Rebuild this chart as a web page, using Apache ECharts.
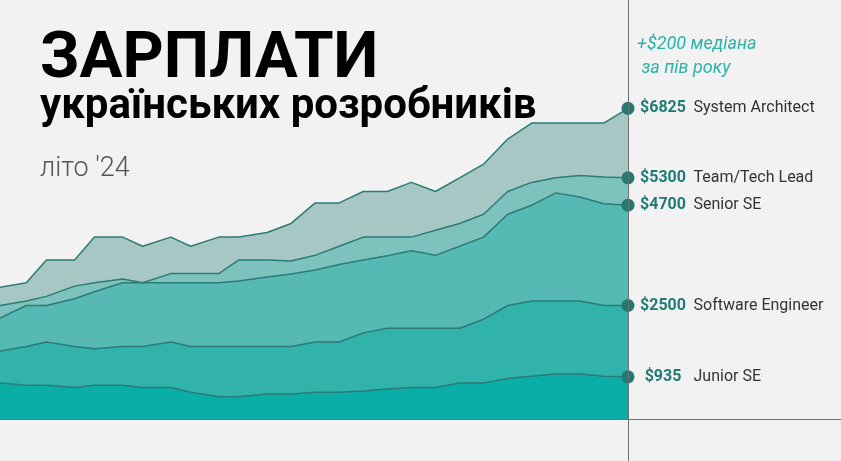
<!DOCTYPE html>
<html>
<head>
<meta charset="utf-8">
<script src="https://cdn.jsdelivr.net/npm/echarts@6/dist/echarts.min.js"></script>
<style>
  html, body { margin: 0; padding: 0; background: #f2f2f2; }
  #main { width: 841px; height: 461px; }
</style>
</head>
<body>
<div id="main"></div>
<script>
// дати опитувань
const dates = ['2011-05-15', '2011-12-01', '2012-05-01', '2012-12-01', '2013-05-01', '2013-12-01', '2014-05-01',
  '2014-12-01', '2015-05-01', '2015-12-01', '2016-05-01', '2016-12-01', '2017-06-01', '2017-12-01', '2018-06-01',
  '2018-12-01', '2019-06-01', '2019-12-01', '2020-06-01', '2020-12-01', '2021-06-01', '2021-12-01', '2022-06-01',
  '2022-12-01', '2023-06-01', '2023-12-01', '2024-06-01']

const names = ['System Architect', 'Team/Tech Lead', 'Senior SE', 'Software Engineer', 'Junior SE']

const architect = [2900, 3000, 3500, 3500, 4000, 4000, 3800, 4000, 3800, 4000, 4000, 4100, 4300, 4750, 4750, 5000, 5000, 5200, 5000, 5300, 5600, 6150, 6500, 6500, 6500, 6500, 6825]
const teamLead = [2500, 2600, 2700, 2925, 3000, 3080, 3000, 3200, 3200, 3200, 3500, 3500, 3475, 3600, 3800, 4000, 4000, 4000, 4150, 4300, 4500, 5000, 5200, 5300, 5350, 5320, 5300]
const senior = [2225, 2500, 2500, 2650, 2800, 3000, 3000, 3000, 3000, 3000, 3040, 3125, 3190, 3280, 3400, 3500, 3590, 3700, 3600, 3800, 4000, 4500, 4700, 4970, 4880, 4730, 4700]
const engineer = [1500, 1600, 1700, 1600, 1550, 1600, 1600, 1700, 1600, 1600, 1600, 1600, 1600, 1700, 1700, 1900, 2000, 2000, 2000, 2000, 2200, 2500, 2600, 2600, 2600, 2500, 2500]
const junior = [800, 750, 750, 700, 750, 750, 700, 700, 600, 500, 500, 560, 560, 600, 600, 625, 670, 700, 700, 800, 800, 900, 950, 1000, 1000, 950, 935]

const fills = ['#a7c7c5', '#7ec2bd', '#57b9b3', '#31b2ab', '#0badA7']

function toTime(s) {
  const p = s.split('-').map(Number)
  return new Date(p[0], p[1] - 1, p[2]).getTime()
}

const times = dates.map(toTime)
const xMin = times[0]
const xLast = times[times.length - 1]
// останнє опитування стоїть на 628px з 841
const xMax = xMin + (xLast - xMin) * 841 / 628

function buildSeries(values, i) {
  const last = values.length - 1
  return {
    name: names[i],
    type: 'line',
    data: values.map((v, j) => [times[j], v]),
    symbol: 'circle',
    symbolSize: (val, params) => params.dataIndex === last ? 13 : 0,
    showAllSymbol: true,
    itemStyle: { color: '#217a73' },
    lineStyle: { color: '#2b7c76', width: 1.5 },
    areaStyle: { color: fills[i], opacity: 1 },
    label: {
      show: true,
      position: 'right',
      distance: 5,
      formatter: p => p.dataIndex === last ? '{v|$' + p.value[1] + '}{n|' + names[i] + '}' : '',
      rich: {
        v: { width: 47, align: 'right', fontFamily: 'Roboto', fontWeight: 'bold', fontSize: 16, color: '#217a73' },
        n: { padding: [0, 0, 0, 7], fontFamily: 'Roboto', fontSize: 16, color: '#333' }
      }
    },
    emphasis: { disabled: true },
    silent: true,
    animation: false
  }
}

const series = [architect, teamLead, senior, engineer, junior].map(buildSeries)

// вертикальна лінія (літо '24) і нульова лінія
series[4].markLine = {
  silent: true,
  symbol: 'none',
  label: { show: false },
  lineStyle: { color: '#707070', width: 1, type: 'solid' },
  data: [{ xAxis: xLast }, { yAxis: 0 }],
  animation: false
}

const chart = echarts.init(document.getElementById('main'))
const option = {
  backgroundColor: '#f2f2f2',
  title: [
    {
      text: 'ЗАРПЛАТИ',
      left: 40,
      top: 29,
      padding: 0,
      textStyle: { fontFamily: 'Roboto', fontWeight: 'bold', fontSize: 64, color: '#000' }
    },
    {
      text: 'українських розробників',
      left: 40,
      top: 86,
      padding: 0,
      textStyle: { fontFamily: 'Roboto', fontWeight: 'bold', fontSize: 42, color: '#000' }
    },
    {
      text: "літо '24",
      left: 40,
      top: 156,
      padding: 0,
      textStyle: { fontFamily: 'Roboto', fontWeight: 300, fontSize: 27, color: '#555' }
    },
    {
      text: '+$200 медіана\n за пів року',
      left: 637,
      top: 32,
      padding: 0,
      textStyle: { fontFamily: 'Roboto', fontStyle: 'italic', fontWeight: 'normal', fontSize: 18, lineHeight: 24, color: '#2bb3aa' }
    }
  ],
  grid: { left: 0, right: 0, top: 0, bottom: 0 },
  xAxis: {
    type: 'time',
    min: xMin,
    max: xMax,
    show: false
  },
  yAxis: {
    type: 'value',
    min: -910,
    max: 9200,
    show: false
  },
  series: series
}
option && chart.setOption(option)
</script>
</body>
</html>
